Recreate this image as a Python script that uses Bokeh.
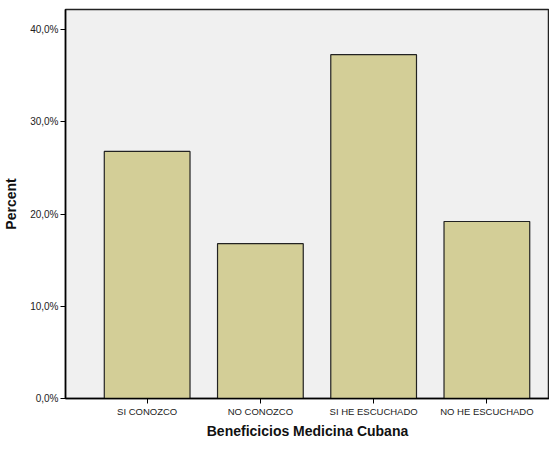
from bokeh.plotting import figure
from bokeh.models import Range1d, FixedTicker, ColumnDataSource
from bokeh.embed import file_html
from bokeh.resources import INLINE

categories = ["SI CONOZCO", "NO CONOZCO", "SI HE ESCUCHADO", "NO HE ESCUCHADO"]
percents = [26.8, 16.8, 37.3, 19.2]
y_ticks = [0, 10, 20, 30, 40]
x_title = "Beneficicios Medicina Cubana"
y_title = "Percent"

xs = list(range(len(categories)))
src = ColumnDataSource(dict(x=xs, top=percents, cat=categories))

p = figure(width=549, height=441, output_backend="svg", toolbar_location=None,
           x_range=Range1d(-0.721, 3.553), y_range=Range1d(0, 42.2),
           min_border_left=55, min_border_top=9, min_border_right=0, min_border_bottom=20)

p.vbar(x="x", top="top", width=0.757, source=src,
       fill_color="#D3CE97", line_color="#222222", line_width=1.2)

p.background_fill_color = "#F0F0F0"
p.border_fill_color = "white"
p.outline_line_color = "#222222"
p.outline_line_width = 1.5
p.xgrid.visible = False
p.ygrid.visible = False

p.xaxis.ticker = FixedTicker(ticks=xs)
p.xaxis.major_label_overrides = {i: c for i, c in enumerate(categories)}
p.yaxis.ticker = FixedTicker(ticks=y_ticks)
p.yaxis.major_label_overrides = {t: f"{t},0%" for t in y_ticks}

for ax in (p.xaxis[0], p.yaxis[0]):
    ax.axis_line_color = "black"
    ax.axis_line_width = 1.5
    ax.major_tick_line_color = "black"
    ax.major_tick_out = 5
    ax.major_tick_in = 0
    ax.minor_tick_line_color = None
    ax.major_label_text_font = "Liberation Sans"
    ax.major_label_text_color = "#222222"
    ax.axis_label_text_font = "Liberation Sans"
    ax.axis_label_text_font_style = "bold"
    ax.axis_label_text_color = "#111111"
    ax.axis_label_text_font_size = "14px"

p.xaxis.major_label_text_font_size = "9.5px"
p.yaxis.major_label_text_font_size = "10px"
p.xaxis.major_label_standoff = 2
p.xaxis.axis_label_standoff = 3
p.yaxis.major_label_standoff = 2
p.yaxis.axis_label_standoff = 8
p.xaxis.axis_label = x_title
p.yaxis.axis_label = y_title

open("out.html", "w").write(file_html(p, INLINE))
